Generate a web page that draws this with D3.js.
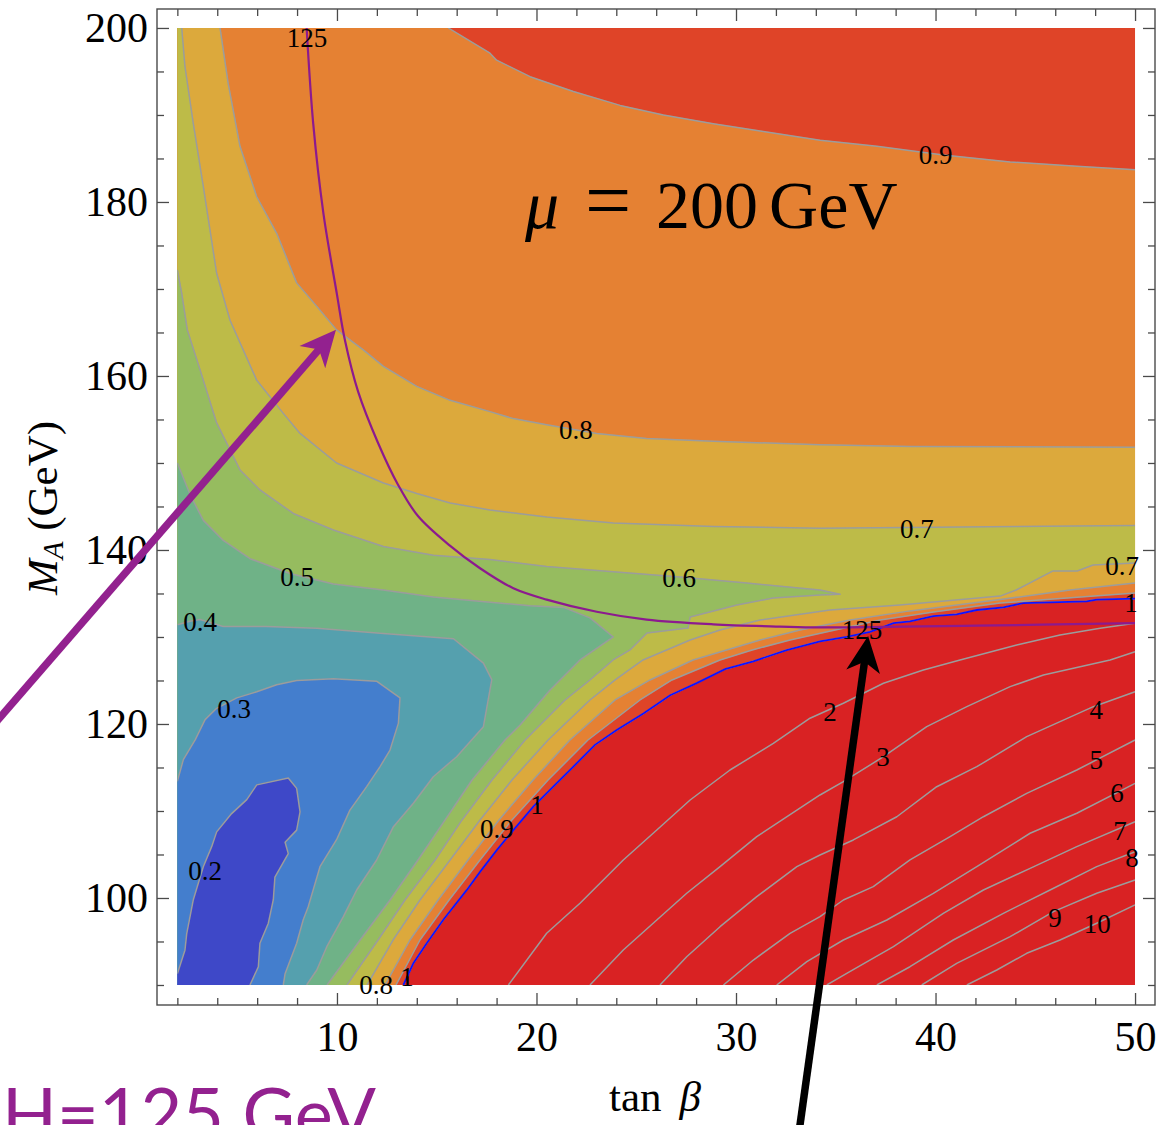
<!DOCTYPE html>
<html>
<head>
<meta charset="utf-8">
<script src="https://cdn.jsdelivr.net/npm/d3@7"></script>
<style>
  body { margin: 0; background: #ffffff; }
  svg { display: block; }
</style>
</head>
<body>
<svg id="chart" width="1176" height="1125"></svg>
<script>
// ---------------------------------------------------------------
// Contour data: each contour is a list of [tanBeta, M_A] vertices.
// ---------------------------------------------------------------
const tanBetaTicks = [10, 20, 30, 40, 50];
const massTicks = [100, 120, 140, 160, 180, 200];

// fill colour of each band, lowest band first (<0.2 ... >1)
const bandColors = ["#3e48c8", "#447ecd", "#55a0ae", "#6fb287", "#96bc5f",
                    "#bdbb48", "#dca93c", "#e58133", "#df4428", "#d92223"];

const c02 = [[2.0,91.3],[2.38,94.0],[2.47,95.9],[2.8,99.8],[3.3,103.6],[3.72,105.9],[3.97,107.6],
  [4.72,109.7],[5.48,111.3],[5.98,113.0],[7.56,113.8],[7.98,112.6],[8.15,109.9],[7.98,107.8],
  [7.4,106.4],[7.56,105.1],[6.89,102.4],[6.81,99.8],[6.56,97.1],[6.14,94.8],[6.06,92.1],[5.64,90]];

const c03 = [[2.0,113.4],[2.3,115.9],[2.9,118.2],[3.39,120.5],[3.97,121.8],[4.98,123.0],[5.98,123.7],
  [6.98,124.5],[7.98,125.0],[9.82,125.2],[12.0,124.9],[13.16,123.0],[13.08,120.1],[12.66,117.0],
  [12.16,115.1],[11.49,112.8],[10.65,110.1],[9.98,106.7],[9.15,103.6],[8.56,99.0],[8.31,97.5],
  [7.98,94.8],[7.4,91.3],[7.31,90]];

const c04 = [[8.48,90],[8.99,91.72],[9.49,94.4],[10.32,97.85],[10.99,100.92],[11.99,104.37],
  [12.83,108.2],[13.83,110.89],[14.83,113.94],[16.0,116.24],[17.34,119.69],[17.76,125.1],
  [17.34,127.0],[15.84,129.8],[12.33,130.4],[8.99,131.0],[6.48,131.2],[4.3,131.2],[3.14,132.0],
  [2.63,131.8],[2.0,131.4]];

const c05 = [[9.5,90],[11.16,95.17],[12.66,99.77],[14.06,104.37],[15.42,108.97],[16.77,113.56],
  [18.42,118.16],[19.18,119.89],[20.68,123.91],[22.18,127.36],[23.85,130.0],[22.68,132.2],
  [21.35,133.4],[19.68,133.6],[17.67,134.0],[14.83,134.6],[12.32,135.4],[9.82,136.1],[7.65,137.3],
  [5.64,139.0],[4.3,141.1],[3.3,143.4],[2.63,146.4],[2.0,150.0]];

const c06 = [[10.5,90],[12.06,95.17],[13.41,99.77],[14.92,104.37],[16.27,108.97],[17.77,113.56],
  [19.43,118.16],[21.43,122.76],[22.68,125.06],[23.84,127.36],[24.69,128.51],[25.54,130.46],
  [27.6,131.03],[27.7,132.3],[30.05,133.68],[31.86,134.48],[34.21,134.83],[35.22,134.9],
  [34.21,135.4],[30.54,136.2],[27.2,136.9],[23.85,137.5],[20.51,138.1],[17.67,138.9],[14.83,139.4],
  [12.33,140.4],[9.82,142.3],[7.81,144.2],[6.14,146.9],[5.14,149.2],[3.97,154.6],[3.14,160.7],
  [2.5,165.3],[2.22,169.5],[2.0,172.2]];

const c07Lower = [[11.51,90],[12.81,95.17],[14.16,99.77],[15.67,104.37],[17.17,108.97],[18.77,113.56],
  [20.58,118.16],[22.68,122.76],[23.94,125.06],[25.34,127.36],[27.7,129.66],[29.2,130.8],
  [31.21,131.95],[34.71,133.1],[38.22,133.68],[43.24,134.7],[44.04,135.4],[45.89,137.59],
  [47.1,137.59],[47.9,138.28],[50,138.51]];
const c07Upper = [[2.22,200],[2.38,195.6],[2.8,189.0],[3.3,181.8],[3.97,171.8],[4.64,166.4],
  [5.98,159.5],[7.31,155.7],[8.15,153.4],[9.98,150.0],[12.33,147.7],[14.0,146.5],[15.67,145.4],
  [17.67,144.6],[20.51,143.8],[23.85,143.1],[28.86,142.7],[34.21,142.5],[50,142.8]];

const c08Lower = [[12.41,90],[13.66,95.17],[15.07,99.77],[16.57,104.37],[18.12,108.97],[19.83,113.56],
  [21.68,118.16],[23.94,122.76],[25.69,125.06],[27.85,127.36],[31.21,129.66],[33.21,130.8],
  [35.72,131.95],[38.72,133.0],[43.24,134.3],[46.74,135.4],[50,136.21]];
const c08Upper = [[4.14,200],[4.55,193.6],[5.14,186.4],[5.98,180.6],[6.98,176.4],[7.98,170.7],
  [8.99,168.0],[9.98,165.3],[11.32,163.0],[12.33,161.1],[14.0,158.8],[15.67,157.2],[17.67,155.9],
  [18.84,155.1],[20.51,154.4],[23.02,153.4],[25.52,152.8],[28.86,152.5],[34.21,152.1],[38.72,151.9],
  [50,151.8]];

const c09Lower = [[12.96,90],[14.16,95.17],[15.62,99.77],[17.17,104.37],[18.77,108.97],[20.58,113.56],
  [22.58,118.16],[25.19,122.76],[26.79,125.06],[29.2,127.36],[30.81,128.51],[32.71,129.66],
  [34.97,130.8],[37.22,131.95],[39.98,132.9],[43.24,133.9],[50,135.06]];
const c09Upper = [[15.58,200],[17.67,197.1],[18.0,196.3],[19.68,194.4],[21.85,192.7],[24.19,191.1],
  [26.36,190.0],[28.86,189.0],[31.37,188.1],[34.21,187.1],[37.06,186.4],[40.39,185.4],[43.74,184.6],
  [47.08,184.1],[50,183.7]];

const c1 = [[13.33,90],[13.83,92.5],[14.5,94.8],[15.33,97.5],[16.5,100.9],[17.17,103.0],[18.01,105.5],
  [18.84,107.8],[19.84,110.5],[20.84,112.8],[21.85,115.1],[22.93,117.6],[24.02,119.3],[25.36,121.2],
  [26.7,123.3],[28.03,124.7],[29.45,126.3],[30.87,127.2],[32.54,128.5],[34.21,129.5],[35.55,130.0],
  [36.72,130.6],[37.89,131.6],[38.72,131.8],[39.89,132.4],[41.06,132.6],[42.07,133.1],[43.4,133.4],
  [44.4,133.9],[47.58,134.1],[48.08,134.3],[50,134.4]];

const c2 = [[18.59,90],[20.51,95.94],[22.18,99.39],[24.35,104.37],[26.03,107.82],[27.7,111.26],
  [29.7,114.71],[31.87,117.78],[33.71,120.66],[35.38,122.38],[37.39,124.68],[39.39,126.21],
  [41.23,127.36],[44.07,129.08],[46.24,130.23],[48.25,131.0],[50,131.57]];
const c3 = [[22.68,90],[24.35,94.02],[26.03,97.47],[27.53,100.54],[29.2,103.6],[31.04,107.05],
  [33.05,110.11],[34.21,111.84],[35.38,113.37],[37.39,116.24],[39.56,119.69],[41.57,121.99],
  [43.74,124.29],[45.41,125.63],[48.75,127.36],[50,128.31]];
const c4 = [[26.19,90],[27.53,93.25],[29.2,96.7],[31.04,100.15],[33.05,103.6],[34.21,104.94],
  [35.88,106.67],[38.06,109.34],[40.06,112.79],[42.07,115.09],[44.57,118.54],[47.91,121.99],[50,123.71]];
const c5 = [[29.37,90],[30.87,92.87],[32.71,95.94],[34.21,97.85],[35.38,99.77],[36.88,101.3],
  [38.72,104.37],[40.73,107.05],[42.4,109.34],[44.57,112.03],[47.08,114.71],[50,118.16]];
const c6 = [[32.04,90],[33.55,92.68],[35.38,95.17],[37.56,97.47],[39.89,100.54],[42.07,103.6],
  [44.74,107.44],[47.08,109.74],[50,113.18]];
const c7 = [[34.55,90],[35.55,91.34],[37.89,94.4],[40.39,98.24],[42.4,100.92],[44.74,103.41],
  [47.08,105.9],[50,108.77]];
const c8 = [[37.06,90],[38.72,92.1],[40.89,95.17],[43.4,98.24],[45.74,100.92],[48.08,103.6],[50,105.32]];
const c9 = [[39.31,90],[41.06,92.49],[43.74,95.55],[45.91,98.43],[48.08,100.54],[50,102.07]];
const c10 = [[41.57,90],[43.07,91.72],[44.57,93.64],[46.24,95.17],[48.08,97.09],[50,99.2]];

// M_H = 125 GeV curve
const mh125 = [[8.48,200],[8.81,189.0],[9.32,178.7],[9.99,169.5],[10.4,164.1],[11.06,158.2],
  [12.06,152.3],[13.06,147.5],[14.06,143.9],[15.66,140.5],[17.17,137.9],[18.84,135.6],[20.51,134.3],
  [23.02,132.9],[25.52,132.0],[28.86,131.46],[32.2,131.2],[34.21,131.1],[42.07,131.3],[50,131.6]];

// contour labels: [text, tanBeta, M_A]
const contourLabels = [
  ["0.9",40.0,185.4],["0.8",21.98,153.8],["0.7",39.07,142.5],["0.6",27.15,136.8],["0.5",8.0,137.0],
  ["0.4",3.14,131.8],["0.3",4.84,121.8],["0.2",3.39,103.2],["0.9",18.02,108.0],["1",20.03,110.7],
  ["0.8",11.96,90.0],["1",13.51,91.0],["0.7",49.35,138.2],["1",49.8,134.0],["2",34.71,121.4],
  ["3",37.37,116.2],["4",48.05,121.7],["5",48.05,115.9],["6",49.1,112.1],["7",49.25,107.8],
  ["8",49.85,104.6],["9",45.99,97.7],["10",48.1,97.1],["125",8.5,198.85],["125",36.32,130.8]
];

// annotation arrows: [tail, tip] in (tanBeta, M_A)
const purpleArrow = [[-8.0,117.8],[9.95,165.3]];
const blackArrow = [[33.14,72.8],[36.62,130.1]];

// ---------------------------------------------------------------
const svg = d3.select("#chart");
const x = d3.scaleLinear().domain([0.98, 51.0]).range([157, 1155]);
const y = d3.scaleLinear().domain([87.7, 202.18]).range([1005, 9]);
const T0 = 2, T1 = 50, M0 = 90, M1 = 200;
const serif = "'Liberation Serif', 'Times New Roman', serif";

svg.append("rect").attr("width", 1176).attr("height", 1125).attr("fill", "#ffffff");

svg.append("defs").append("clipPath").attr("id", "dataClip")
  .append("rect")
  .attr("x", x(T0)).attr("y", y(M1))
  .attr("width", x(T1) - x(T0)).attr("height", y(M0) - y(M1));

const plot = svg.append("g").attr("clip-path", "url(#dataClip)");
const line = d3.line().x(d => x(d[0])).y(d => y(d[1]));
const rev = a => a.slice().reverse();

// the highest band covers the whole field, each sub-level region is painted over it
plot.append("rect")
  .attr("x", x(T0)).attr("y", y(M1))
  .attr("width", x(T1) - x(T0)).attr("height", y(M0) - y(M1))
  .attr("fill", bandColors[9]);

const subLevel = [
  [[...c1, [T1, M1], [T0, M1], [T0, M0]], 8],
  [[...c09Lower, ...rev(c09Upper), [T0, M1], [T0, M0]], 7],
  [[...c08Lower, ...rev(c08Upper), [T0, M1], [T0, M0]], 6],
  [[...c07Lower, ...rev(c07Upper), [T0, M1], [T0, M0]], 5],
  [[...c06, [T0, M0]], 4],
  [[...c05, [T0, M0]], 3],
  [[...c04, [T0, M0]], 2],
  [[...c03, [T0, M0]], 1],
  [[...c02, [T0, M0]], 0]
];
plot.selectAll("path.band").data(subLevel).join("path")
  .attr("class", "band")
  .attr("d", d => line(d[0]) + "Z")
  .attr("fill", d => bandColors[d[1]])
  .attr("stroke", d => bandColors[d[1]])
  .attr("stroke-width", 0.6);

// grey contour lines
const grayLines = [c02, c03, c04, c05, c06, c07Lower, c07Upper, c08Lower, c08Upper,
                   c09Lower, c09Upper, c1, c2, c3, c4, c5, c6, c7, c8, c9, c10];
plot.selectAll("path.contour").data(grayLines).join("path")
  .attr("class", "contour")
  .attr("d", line)
  .attr("fill", "none")
  .attr("stroke", "#9c9c9c")
  .attr("stroke-width", 1.5)
  .attr("stroke-linejoin", "round");

// unit contour in blue
plot.append("path").attr("d", line(c1))
  .attr("fill", "none").attr("stroke", "#1010ff").attr("stroke-width", 1.8);

// M_H = 125 GeV curve
plot.append("path")
  .attr("d", d3.line().x(d => x(d[0])).y(d => y(d[1])).curve(d3.curveCatmullRom.alpha(0.5))(mh125))
  .attr("fill", "none").attr("stroke", "#8c1a8f").attr("stroke-width", 2.2);

// contour labels
svg.append("g").selectAll("text").data(contourLabels).join("text")
  .attr("x", d => x(d[1])).attr("y", d => y(d[2]))
  .attr("dy", "0.35em")
  .attr("text-anchor", "middle")
  .attr("font-family", serif).attr("font-size", 27)
  .attr("fill", "#000")
  .text(d => d[0]);

// mu annotation
const mu = svg.append("g")
  .attr("transform", `translate(${x(19.43)},${y(177.0)})`)
  .attr("font-family", serif).attr("fill", "#000");
mu.append("text").attr("x", 0).attr("font-size", 68).attr("font-style", "italic").text("μ");
mu.append("text").attr("x", 83).attr("text-anchor", "middle").attr("font-size", 82).text("=");
mu.append("text").attr("x", 131).attr("font-size", 68).text("200");
mu.append("text").attr("x", 244).attr("font-size", 68).text("GeV");

// ---------------- frame and ticks ----------------
const frame = svg.append("g");
frame.append("rect")
  .attr("x", 157).attr("y", 9).attr("width", 998).attr("height", 996)
  .attr("fill", "none").attr("stroke", "#4a4a4a").attr("stroke-width", 1.4);

const minorT = d3.range(2, 51, 2).filter(v => v % 10 !== 0);
const minorM = d3.range(90, 201, 5).filter(v => v % 20 !== 0);

function styleAxis(g) {
  g.select(".domain").remove();
  g.selectAll(".tick line").attr("stroke", "#4a4a4a").attr("stroke-width", 1.3);
  g.selectAll(".tick text").attr("font-family", serif).attr("font-size", 42).attr("fill", "#000");
}

svg.append("g").attr("transform", "translate(0,1005)")
  .call(d3.axisBottom(x).tickValues(tanBetaTicks).tickSize(-12).tickPadding(16).tickFormat(d3.format("d")))
  .call(styleAxis);
svg.append("g").attr("transform", "translate(0,1005)")
  .call(d3.axisBottom(x).tickValues(minorT).tickSize(-7).tickFormat(""))
  .call(styleAxis);
svg.append("g").attr("transform", "translate(0,9)")
  .call(d3.axisTop(x).tickValues(tanBetaTicks).tickSize(-12).tickFormat(""))
  .call(styleAxis);
svg.append("g").attr("transform", "translate(0,9)")
  .call(d3.axisTop(x).tickValues(minorT).tickSize(-7).tickFormat(""))
  .call(styleAxis);

svg.append("g").attr("transform", "translate(157,0)")
  .call(d3.axisLeft(y).tickValues(massTicks).tickSize(-12).tickPadding(9).tickFormat(d3.format("d")))
  .call(styleAxis);
svg.append("g").attr("transform", "translate(157,0)")
  .call(d3.axisLeft(y).tickValues(minorM).tickSize(-7).tickFormat(""))
  .call(styleAxis);
svg.append("g").attr("transform", "translate(1155,0)")
  .call(d3.axisRight(y).tickValues(massTicks).tickSize(-12).tickFormat(""))
  .call(styleAxis);
svg.append("g").attr("transform", "translate(1155,0)")
  .call(d3.axisRight(y).tickValues(minorM).tickSize(-7).tickFormat(""))
  .call(styleAxis);

// axis titles
const xt = svg.append("text").attr("x", 655).attr("y", 1111)
  .attr("text-anchor", "middle").attr("font-family", serif).attr("font-size", 43).attr("fill", "#000");
xt.append("tspan").text("tan");
xt.append("tspan").attr("dx", 18).attr("font-style", "italic").text("β");

const yt = svg.append("text").attr("transform", "translate(57,508) rotate(-90)")
  .attr("text-anchor", "middle").attr("font-family", serif).attr("font-size", 43).attr("fill", "#000");
yt.append("tspan").attr("font-style", "italic").text("M");
yt.append("tspan").attr("font-style", "italic").attr("font-size", 29).attr("dy", 6).text("A");
yt.append("tspan").attr("dy", -6).text(" (GeV)");

// ---------------- annotation arrows ----------------
function drawArrow(pts, color) {
  const [ax, ay] = [x(pts[0][0]), y(pts[0][1])];
  const [bx, by] = [x(pts[1][0]), y(pts[1][1])];
  const len = Math.hypot(bx - ax, by - ay);
  const ux = (bx - ax) / len, uy = (by - ay) / len;
  const nx = -uy, ny = ux;
  const hl = 36, hw = 17;
  svg.append("line")
    .attr("x1", ax).attr("y1", ay)
    .attr("x2", bx - ux * hl * 0.7).attr("y2", by - uy * hl * 0.7)
    .attr("stroke", color).attr("stroke-width", 7.5);
  const head = [
    [bx, by],
    [bx - ux * hl + nx * hw, by - uy * hl + ny * hw],
    [bx - ux * hl * 0.72, by - uy * hl * 0.72],
    [bx - ux * hl - nx * hw, by - uy * hl - ny * hw]
  ];
  svg.append("path").attr("d", "M" + head.map(p => p.join(",")).join("L") + "Z").attr("fill", color);
}
drawArrow(purpleArrow, "#93218f");
drawArrow(blackArrow, "#000000");

// Higgs mass caption
svg.append("text")
  .attr("x", 376).attr("y", 1140)
  .attr("text-anchor", "end")
  .attr("font-family", "Lato, 'Open Sans', sans-serif").attr("font-size", 72)
  .attr("fill", "#93218f")
  .text("MH=125 GeV");
</script>
</body>
</html>
